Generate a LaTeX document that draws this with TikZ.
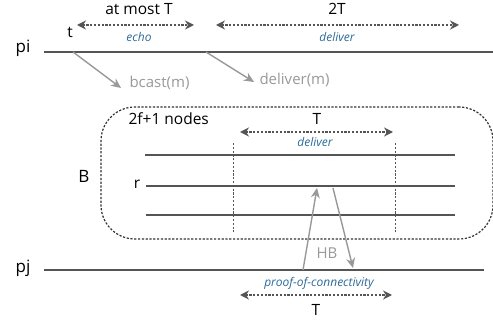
\documentclass[tikz,border=0pt]{standalone}
\usepackage{fontspec}
\setmainfont{Open Sans}
\usetikzlibrary{arrows.meta}
\definecolor{lanegray}{HTML}{555555}
\definecolor{msggray}{HTML}{999999}
\definecolor{noteblue}{HTML}{2B6A99}
\tikzset{>={Stealth[scale=1]}}

\begin{document}
\begin{tikzpicture}[x=1pt, y=-1pt,
    lane/.style={lanegray, line width=2.3pt},
    span/.style={lanegray, line width=1.4pt, dash pattern=on 2.2pt off 1.6pt, {Stealth[length=9pt,width=9pt]}-{Stealth[length=9pt,width=9pt]}},
    msg/.style={msggray, line width=1.4pt, -{Stealth[length=10pt,width=9pt]}},
    note/.style={noteblue, font=\fontsize{12}{13}\selectfont\itshape},
    lbl/.style={font=\fontsize{15.5}{16}\selectfont},
    mlbl/.style={msggray, font=\fontsize{15}{16}\selectfont}]
    \useasboundingbox (0,0) rectangle (493,320);

    % processes
    \node[font=\fontsize{17}{18}\selectfont] (pi) at (23,48) {pi};
    \node[font=\fontsize{17}{18}\selectfont] (pj) at (23,268) {pj};
    \coordinate (piA) at (44,52);
    \coordinate (piB) at (493,52);
    \coordinate (pjA) at (44,270);
    \coordinate (pjB) at (484,270);
    \draw[lane] (piA) -- (piB);
    \draw[lane] (pjA) -- (pjB);

    % echo and deliver windows at pi
    \node[lbl] (t) at (70,32) {t};
    \node[lbl] (atmost) at (139,9) {at most T};
    \node[note] (echo) at (139,37) {echo};
    \coordinate (eA) at (77,25);
    \coordinate (eB) at (194,25);
    \draw[span] (eA) -- (eB);

    \node[lbl] (twoT) at (337,9) {2T};
    \node[note] (dlv) at (337,37) {deliver};
    \coordinate (dA) at (216,25);
    \coordinate (dB) at (459,25);
    \draw[span] (dA) -- (dB);

    % messages
    \coordinate (m1) at (73,52);
    \node[mlbl, anchor=west] (bcast) at (126,83) {bcast(m)};
    \draw[msg] (m1) -- (121,88);
    \coordinate (m2) at (206,52);
    \node[mlbl, anchor=west] (dmsg) at (256,80) {deliver(m)};
    \draw[msg] (m2) -- (254,82);

    % the set B
    \node[draw, lanegray!60!black, dash pattern=on 2.2pt off 1.6pt, line width=1.2pt, rounded corners=34pt,
          minimum width=392pt, minimum height=132pt] (B) at (297,173) {};
    \node[font=\fontsize{17}{18}\selectfont] (Blbl) at (84,176) {B};
    \node[lbl, anchor=west] (nodes) at (125,119) {2f+1 nodes};

    \node[lbl] (T1) at (317,119) {T};
    \node[note] (dlv2) at (315,142) {deliver};
    \coordinate (bA) at (240,132);
    \coordinate (bB) at (393,132);
    \draw[span] (bA) -- (bB);
    \draw[lanegray, line width=1pt, dash pattern=on 2.2pt off 1.6pt] (233,143) -- (233,232);
    \draw[lanegray, line width=1pt, dash pattern=on 2.2pt off 1.6pt] (395,143) -- (395,232);

    \draw[lane] (145,155) -- (455,155);
    \coordinate (rA) at (146,186);
    \draw[lane] (rA) -- (455,186);
    \draw[lane] (146,215) -- (455,215);
    \node[lbl] (r) at (137,184) {r};

    % happens-before round trip
    \coordinate (hbA) at (303,270);
    \coordinate (hbB) at (317,188);
    \coordinate (hbC) at (333,188);
    \coordinate (hbD) at (353,268);
    \draw[msg] (hbA) -- (hbB);
    \draw[msg] (hbC) -- (hbD);
    \node[mlbl] (HB) at (327,253) {HB};

    % proof window at pj
    \node[note] (proof) at (319,283) {proof-of-connectivity};
    \coordinate (pA) at (240,295);
    \coordinate (pB) at (392,295);
    \draw[span] (pA) -- (pB);
    \node[lbl] (T2) at (316,310) {T};
\end{tikzpicture}
\end{document}
